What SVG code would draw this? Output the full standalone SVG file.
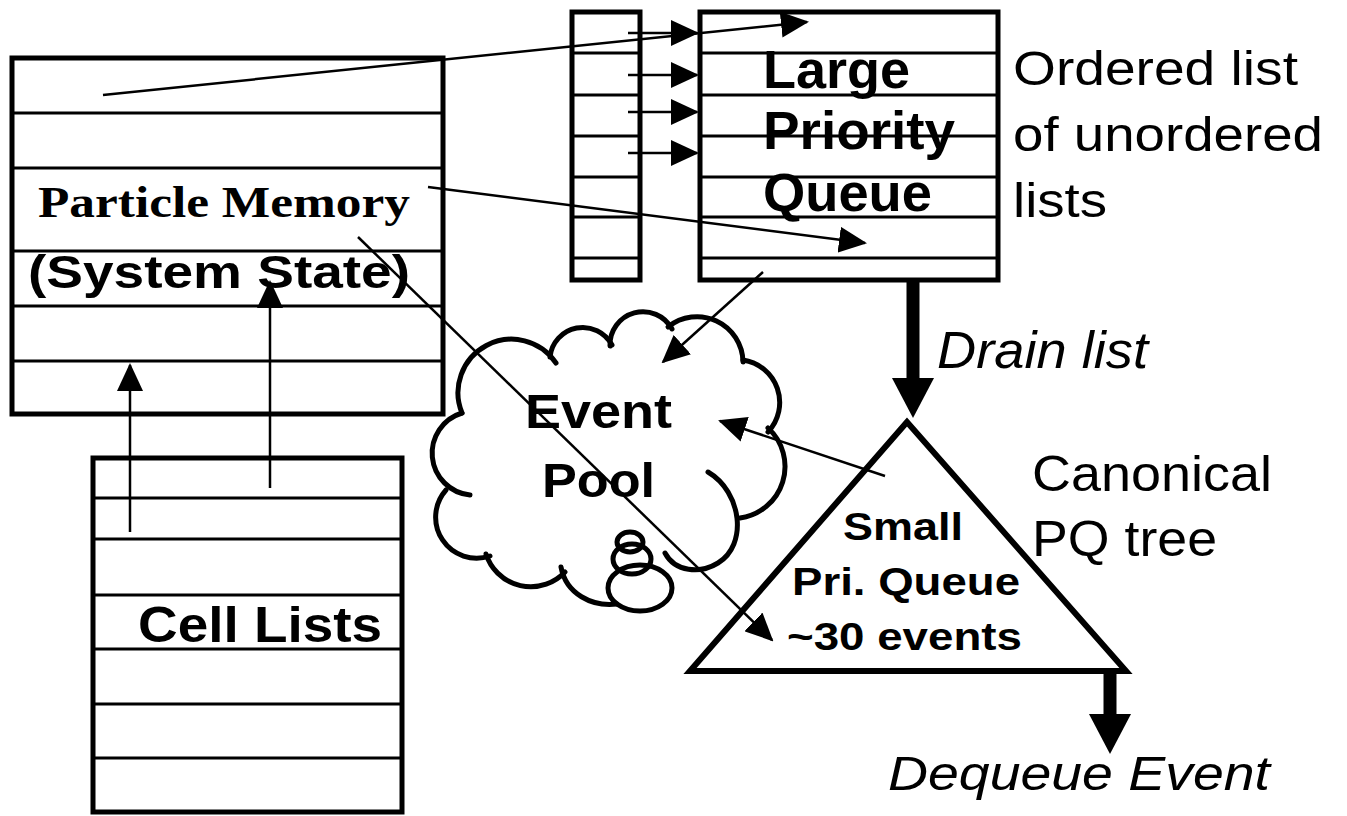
<svg xmlns="http://www.w3.org/2000/svg" width="1347" height="816" viewBox="0 0 1347 816">
<style>
.box{fill:none;stroke:#000;stroke-width:5}
.row{stroke:#000;stroke-width:3}
.ln{stroke:#000;stroke-width:2.5;fill:none}
.thick{stroke:#000;stroke-width:13;fill:none}
.cloud{fill:none;stroke:#000;stroke-width:5;stroke-linecap:round}
.t{font-family:"Liberation Sans",Arial,sans-serif;fill:#000}
.b{font-weight:bold}
.i{font-style:italic}
.serif{font-family:"Liberation Serif","Times New Roman",serif;font-weight:bold;fill:#000}
</style>
<defs>
<marker id="arr" markerUnits="userSpaceOnUse" markerWidth="28" markerHeight="26" refX="26" refY="13" orient="auto">
<path d="M0,0 L28,13 L0,26 z" fill="#000"/>
</marker>
<marker id="big" markerUnits="userSpaceOnUse" markerWidth="40" markerHeight="42" refX="0" refY="21" orient="auto">
<path d="M0,0 L40,21 L0,42 z" fill="#000"/>
</marker>
</defs>
<rect width="1347" height="816" fill="#fff"/>

<g id="particle-memory">
<rect class="box" x="12" y="58" width="431" height="356"/>
<line class="row" x1="12" y1="113" x2="443" y2="113"/>
<line class="row" x1="12" y1="168" x2="443" y2="168"/>
<line class="row" x1="12" y1="251" x2="443" y2="251"/>
<line class="row" x1="12" y1="306" x2="443" y2="306"/>
<line class="row" x1="12" y1="361" x2="443" y2="361"/>
<text class="serif" x="38" y="217" font-size="44" textLength="372" lengthAdjust="spacingAndGlyphs">Particle Memory</text>
<text class="t b" x="28" y="288" font-size="46" textLength="382" lengthAdjust="spacingAndGlyphs">(System State)</text>
</g>

<g id="cell-lists">
<rect class="box" x="93" y="458" width="309" height="354"/>
<line class="row" x1="93" y1="498" x2="402" y2="498"/>
<line class="row" x1="93" y1="539" x2="402" y2="539"/>
<line class="row" x1="93" y1="595" x2="402" y2="595"/>
<line class="row" x1="93" y1="649" x2="402" y2="649"/>
<line class="row" x1="93" y1="704" x2="402" y2="704"/>
<line class="row" x1="93" y1="758" x2="402" y2="758"/>
<text class="t b" x="138" y="642" font-size="50" textLength="244" lengthAdjust="spacingAndGlyphs">Cell Lists</text>
</g>

<g id="index-column">
<rect class="box" x="572" y="12" width="68" height="268"/>
<line class="row" x1="572" y1="53" x2="640" y2="53"/>
<line class="row" x1="572" y1="95" x2="640" y2="95"/>
<line class="row" x1="572" y1="136" x2="640" y2="136"/>
<line class="row" x1="572" y1="177" x2="640" y2="177"/>
<line class="row" x1="572" y1="217" x2="640" y2="217"/>
<line class="row" x1="572" y1="258" x2="640" y2="258"/>
</g>

<g id="large-priority-queue">
<rect class="box" x="700" y="12" width="298" height="268"/>
<line class="row" x1="700" y1="53" x2="998" y2="53"/>
<line class="row" x1="700" y1="95" x2="998" y2="95"/>
<line class="row" x1="700" y1="136" x2="998" y2="136"/>
<line class="row" x1="700" y1="177" x2="998" y2="177"/>
<line class="row" x1="700" y1="217" x2="998" y2="217"/>
<line class="row" x1="700" y1="258" x2="998" y2="258"/>
<text class="t b" x="763" y="88" font-size="54" textLength="147" lengthAdjust="spacingAndGlyphs">Large</text>
<text class="t b" x="763" y="149" font-size="54" textLength="192" lengthAdjust="spacingAndGlyphs">Priority</text>
<text class="t b" x="763" y="211" font-size="54" textLength="169" lengthAdjust="spacingAndGlyphs">Queue</text>
</g>

<g id="lpq-note">
<text class="t" x="1013" y="85" font-size="49" textLength="285" lengthAdjust="spacingAndGlyphs">Ordered list</text>
<text class="t" x="1013" y="151" font-size="49" textLength="310" lengthAdjust="spacingAndGlyphs">of unordered</text>
<text class="t" x="1013" y="217" font-size="49" textLength="94" lengthAdjust="spacingAndGlyphs">lists</text>
</g>

<g id="event-pool">
<path class="cloud" d="M470,495 A42,42 0 0 1 462,413"/>
<path class="cloud" d="M462,413 A53.5,53.5 0 0 1 556,363"/>
<path class="cloud" d="M550,357 A33,33 0 0 1 612,345"/>
<path class="cloud" d="M610,346 A33,33 0 0 1 672,329"/>
<path class="cloud" d="M668,327 A46,46 0 0 1 743,362"/>
<path class="cloud" d="M743,360 A43,43 0 0 1 768,432"/>
<path class="cloud" d="M768,428 A52,52 0 0 1 740,518"/>
<path class="cloud" d="M708,472 C742,492 748,545 718,563 C700,574 675,572 665,553"/>
<path class="cloud" d="M617,604 C592,607 566,594 561,567"/>
<path class="cloud" d="M565,572 A47,47 0 0 1 486,554"/>
<path class="cloud" d="M490,556 A41,41 0 0 1 446,490"/>
<ellipse class="cloud" cx="640" cy="588" rx="32" ry="23"/>
<ellipse class="cloud" cx="632" cy="559" rx="19" ry="15"/>
<ellipse class="cloud" cx="630" cy="542" rx="13" ry="10"/>
<text class="t b" x="525" y="428" font-size="48" textLength="147" lengthAdjust="spacingAndGlyphs">Event</text>
<text class="t b" x="542" y="497" font-size="48" textLength="113" lengthAdjust="spacingAndGlyphs">Pool</text>
</g>

<g id="small-priority-queue">
<polygon points="907,422 690,671 1126,671" fill="none" stroke="#000" stroke-width="6"/>
<text class="t b" x="843" y="540" font-size="38" textLength="120" lengthAdjust="spacingAndGlyphs">Small</text>
<text class="t b" x="792" y="595" font-size="38" textLength="228" lengthAdjust="spacingAndGlyphs">Pri. Queue</text>
<text class="t b" x="787" y="650" font-size="38" textLength="235" lengthAdjust="spacingAndGlyphs">~30 events</text>
</g>

<g id="spq-note">
<text class="t" x="1032" y="491" font-size="50" textLength="240" lengthAdjust="spacingAndGlyphs">Canonical</text>
<text class="t" x="1032" y="556" font-size="50" textLength="185" lengthAdjust="spacingAndGlyphs">PQ tree</text>
</g>

<g id="connectors">
<line class="ln" x1="103" y1="95" x2="807" y2="22" marker-end="url(#arr)"/>
<line class="ln" x1="428" y1="187" x2="865" y2="243" marker-end="url(#arr)"/>
<line class="ln" x1="358" y1="237" x2="772" y2="640" marker-end="url(#arr)"/>
<line class="ln" x1="628" y1="33" x2="697" y2="33" marker-end="url(#arr)"/>
<line class="ln" x1="628" y1="75" x2="697" y2="75" marker-end="url(#arr)"/>
<line class="ln" x1="628" y1="112" x2="697" y2="112" marker-end="url(#arr)"/>
<line class="ln" x1="628" y1="153" x2="697" y2="153" marker-end="url(#arr)"/>
<line class="ln" x1="130" y1="532" x2="130" y2="365" marker-end="url(#arr)"/>
<line class="ln" x1="270" y1="488" x2="270" y2="282" marker-end="url(#arr)"/>
<line class="ln" x1="763" y1="272" x2="663" y2="362" marker-end="url(#arr)"/>
<line class="ln" x1="885" y1="476" x2="720" y2="421" marker-end="url(#arr)"/>
<line class="thick" x1="913" y1="281" x2="913" y2="378" marker-end="url(#big)"/>
<line class="thick" x1="1110" y1="672" x2="1110" y2="714" marker-end="url(#big)"/>
<text class="t i" x="937" y="368" font-size="52" textLength="211" lengthAdjust="spacingAndGlyphs">Drain list</text>
<text class="t i" x="888" y="790" font-size="48" textLength="382" lengthAdjust="spacingAndGlyphs">Dequeue Event</text>
</g>
</svg>
